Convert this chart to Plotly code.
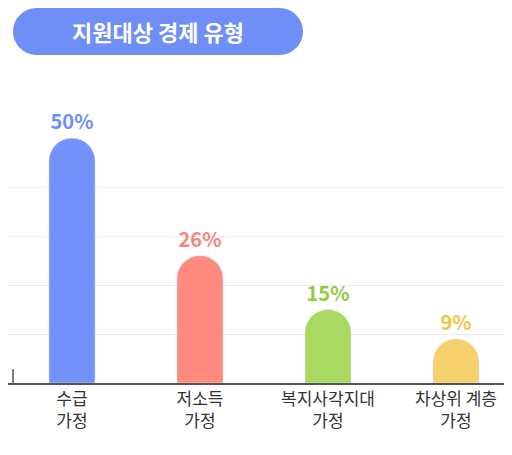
import plotly.graph_objects as go

categories = ["수급<br>가정", "저소득<br>가정", "복지사각지대<br>가정", "차상위 계층<br>가정"]
values = [50, 26, 15, 9]
bar_colors = ["#7393fb", "#ff8a80", "#a9d962", "#f7d06e"]
label_colors = ["#6f8ff7", "#f7877c", "#8fcb3f", "#f0c445"]

fig = go.Figure()
fig.add_trace(go.Bar(
    x=categories, y=values,
    marker=dict(color=bar_colors, cornerradius="50%"),
    width=0.36,
    text=[f"<b>{v}%</b>" for v in values],
    textposition="outside",
    textfont=dict(family="Noto Sans CJK KR", size=20, color=label_colors),
    cliponaxis=False,
    hoverinfo="skip",
))

# 제목 알약 모양 배경 (플롯 영역: 위 130px, 높이 245px)
py0, py1 = 1 + (130 - 47) / 245, 1 + 130 / 245
shapes = [
    dict(type="rect", xref="paper", yref="paper", x0=28 / 512, x1=272 / 512, y0=py0, y1=py1,
         fillcolor="#6f8ff7", line_width=0, layer="below"),
    dict(type="circle", xref="paper", yref="paper", x0=5 / 512, x1=52 / 512, y0=py0, y1=py1,
         fillcolor="#6f8ff7", line_width=0, layer="below"),
    dict(type="circle", xref="paper", yref="paper", x0=248 / 512, x1=295 / 512, y0=py0, y1=py1,
         fillcolor="#6f8ff7", line_width=0, layer="below"),
    dict(type="line", xref="paper", yref="paper", x0=5 / 512, x1=5 / 512, y0=0, y1=14 / 245,
         line=dict(color="#555", width=1.5)),
    dict(type="line", xref="paper", yref="paper", x0=507 / 512, x1=507 / 512, y0=0, y1=14 / 245,
         line=dict(color="#555", width=1.5)),
]

fig.update_layout(
    width=512, height=455,
    margin=dict(l=0, r=0, t=130, b=80),
    plot_bgcolor="white", paper_bgcolor="white",
    showlegend=False,
    shapes=shapes,
    annotations=[dict(text="<b>지원대상 경제 유형</b>", xref="paper", yref="paper",
                      x=150 / 512, y=(py0 + py1) / 2, xanchor="center", yanchor="middle",
                      showarrow=False,
                      font=dict(family="Noto Sans CJK KR", size=22, color="white"))],
    xaxis=dict(showline=True, linecolor="#555", linewidth=1.5, ticks="", automargin=False,
               range=[-0.5, 3.5],
               tickfont=dict(family="Noto Sans CJK KR", size=17, color="#333")),
    yaxis=dict(range=[0, 50], dtick=10, showticklabels=False, zeroline=False, automargin=False,
               gridcolor="#ececec", gridwidth=1),
)

fig.write_html("out.html")
